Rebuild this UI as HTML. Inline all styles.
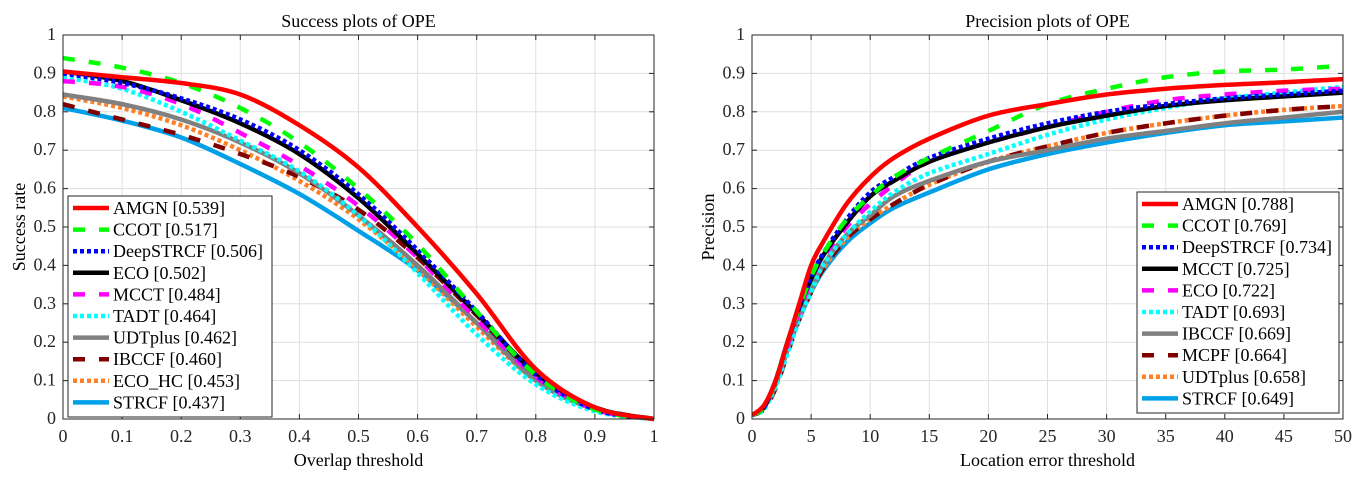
<!DOCTYPE html>
<html><head><meta charset="utf-8"><style>
body{margin:0;background:#fff;}
svg{display:block;font-family:"Liberation Serif",serif;}
</style></head><body>
<svg id="svg" width="1361" height="477" viewBox="0 0 1361 477"></svg>
<script>
const thrS=[0,0.1,0.2,0.3,0.4,0.5,0.6,0.7,0.8,0.9,1];
const sAMGN=[0.905,0.89,0.875,0.845,0.765,0.655,0.5,0.326,0.13,0.03,0];
const sCCOT=[0.94,0.915,0.875,0.81,0.72,0.6,0.455,0.28,0.115,0.025,0];
const sDeep=[0.90,0.875,0.835,0.78,0.70,0.585,0.44,0.28,0.115,0.025,0];
const sECO=[0.905,0.88,0.83,0.77,0.69,0.575,0.43,0.275,0.12,0.03,0];
const sMCCT=[0.88,0.865,0.82,0.745,0.66,0.555,0.42,0.26,0.11,0.025,0];
const sTADT=[0.89,0.86,0.8,0.725,0.645,0.53,0.38,0.22,0.09,0.02,0];
const sUDT=[0.845,0.82,0.78,0.72,0.64,0.53,0.4,0.25,0.1,0.025,0];
const sIBCCF=[0.82,0.78,0.74,0.69,0.63,0.545,0.42,0.27,0.115,0.03,0];
const sECOHC=[0.84,0.81,0.765,0.7,0.62,0.52,0.39,0.24,0.1,0.025,0];
const sSTRCF=[0.81,0.777,0.733,0.664,0.586,0.49,0.387,0.25,0.11,0.025,0];
const thrP=[0,1,2,3,4,5,6,8,10,12,15,20,25,30,35,40,45,50];
const pAMGN=[0.01,0.035,0.1,0.2,0.3,0.4,0.46,0.56,0.63,0.68,0.73,0.79,0.82,0.845,0.86,0.87,0.877,0.885];
const pCCOT=[0.01,0.03,0.1,0.2,0.29,0.37,0.43,0.52,0.58,0.63,0.68,0.75,0.82,0.86,0.89,0.905,0.91,0.92];
const pDeep=[0.01,0.03,0.1,0.2,0.29,0.37,0.43,0.52,0.59,0.63,0.68,0.73,0.77,0.8,0.82,0.835,0.845,0.855];
const pMCCT=[0.01,0.03,0.1,0.2,0.29,0.365,0.425,0.51,0.58,0.62,0.67,0.72,0.76,0.79,0.815,0.83,0.84,0.85];
const pECO=[0.01,0.03,0.1,0.19,0.28,0.36,0.42,0.5,0.56,0.61,0.67,0.72,0.76,0.8,0.83,0.845,0.855,0.86];
const pTADT=[0.01,0.025,0.085,0.17,0.26,0.33,0.4,0.48,0.54,0.59,0.64,0.69,0.74,0.78,0.81,0.835,0.85,0.865];
const pIBCCF=[0.01,0.03,0.09,0.18,0.27,0.34,0.4,0.48,0.53,0.58,0.62,0.67,0.7,0.73,0.75,0.77,0.785,0.8];
const pMCPF=[0.01,0.025,0.08,0.17,0.26,0.33,0.39,0.47,0.52,0.56,0.61,0.67,0.71,0.745,0.77,0.79,0.805,0.815];
const pUDT=[0.01,0.03,0.09,0.18,0.26,0.33,0.39,0.47,0.52,0.56,0.61,0.67,0.71,0.745,0.77,0.79,0.805,0.815];
const pSTRCF=[0.01,0.03,0.09,0.18,0.26,0.33,0.385,0.46,0.51,0.55,0.59,0.65,0.69,0.72,0.745,0.765,0.775,0.785];
const ticksY=[0,0.1,0.2,0.3,0.4,0.5,0.6,0.7,0.8,0.9,1];
const ticksYLab=["0","0.1","0.2","0.3","0.4","0.5","0.6","0.7","0.8","0.9","1"];
const ticksXS=[0,0.1,0.2,0.3,0.4,0.5,0.6,0.7,0.8,0.9,1];
const ticksXSLab=["0","0.1","0.2","0.3","0.4","0.5","0.6","0.7","0.8","0.9","1"];
const ticksXP=[0,5,10,15,20,25,30,35,40,45,50];
const ticksXPLab=["0","5","10","15","20","25","30","35","40","45","50"];
const succLabels=["AMGN [0.539]","CCOT [0.517]","DeepSTRCF [0.506]","ECO [0.502]","MCCT [0.484]","TADT [0.464]","UDTplus [0.462]","IBCCF [0.460]","ECO_HC [0.453]","STRCF [0.437]"];
const precLabels=["AMGN [0.788]","CCOT [0.769]","DeepSTRCF [0.734]","MCCT [0.725]","ECO [0.722]","TADT [0.693]","IBCCF [0.669]","MCPF [0.664]","UDTplus [0.658]","STRCF [0.649]"];

const NS="http://www.w3.org/2000/svg";
const svg=document.getElementById('svg');
function el(t,a,p){const e=document.createElementNS(NS,t);for(const k in a)e.setAttribute(k,a[k]);(p||svg).appendChild(e);return e;}
const ST={red:{c:"#ff0000",d:""},green:{c:"#00ff00",d:"12,14"},blue:{c:"#0000ff",d:"4,3"},black:{c:"#000000",d:""},mag:{c:"#ff00ff",d:"12,14"},cyan:{c:"#00ffff",d:"4,3"},gray:{c:"#808080",d:""},dred:{c:"#800000",d:"12,14"},orange:{c:"#ff7f27",d:"4,3"},sky:{c:"#00a0e8",d:""}};

function plot(cfg){
  const L=cfg.L,R=cfg.L+591,T=35,B=419;
  const sx=v=>L+(v-cfg.xmin)/(cfg.xmax-cfg.xmin)*(R-L);
  const sy=v=>B-v*(B-T);
  const g=el('g',{});
  
  
  cfg.tx.forEach((t,i)=>{const x=sx(t);const ln=el('line',{x1:x,x2:x,y1:T,y2:B,stroke:"#dfdfdf","stroke-width":1},g);
    el('line',{x1:x,x2:x,y1:B,y2:B-5,stroke:"#262626"},g);el('line',{x1:x,x2:x,y1:T,y2:T+5,stroke:"#262626"},g);
    const tx=el('text',{x:x,y:B+23,"text-anchor":"middle","font-size":18,fill:"#262626"},g);tx.textContent=cfg.txl[i];});
  ticksY.forEach((t,i)=>{const y=sy(t);const ln=el('line',{x1:L,x2:R,y1:y,y2:y,stroke:"#dfdfdf","stroke-width":1},g);
    el('line',{x1:L,x2:L+5,y1:y,y2:y,stroke:"#262626"},g);el('line',{x1:R,x2:R-5,y1:y,y2:y,stroke:"#262626"},g);
    const tx=el('text',{x:L-7,y:y+5,"text-anchor":"end","font-size":18,fill:"#262626"},g);tx.textContent=ticksYLab[i];});
  const cp=el('clipPath',{id:cfg.name+"-clip"},g);el('rect',{x:L,y:T-4,width:R-L+4,height:B-T+8},cp);
  const sg=el('g',{"clip-path":"url(#"+cfg.name+"-clip)"},g);
  cfg.series.slice().reverse().forEach(s=>{
    const pts=cfg.xs.map((x,i)=>[sx(x),sy(s.v[i])]);
    let d="M"+pts[0][0]+","+pts[0][1];
    for(let i=0;i<pts.length-1;i++){const p0=pts[Math.max(0,i-1)],p1=pts[i],p2=pts[i+1],p3=pts[Math.min(pts.length-1,i+2)];
      d+=" C"+(p1[0]+(p2[0]-p0[0])/6)+","+(p1[1]+(p2[1]-p0[1])/6)+" "+(p2[0]-(p3[0]-p1[0])/6)+","+(p2[1]-(p3[1]-p1[1])/6)+" "+p2[0]+","+p2[1];}
    const st=ST[s.st];
    const p=el('path',{d:d,fill:"none",stroke:st.c,"stroke-width":4.5,"stroke-dasharray":st.d},sg);
    
    
  });
  el('rect',{x:L,y:T,width:R-L,height:B-T,fill:"none",stroke:"#262626","stroke-width":1},g);
  const ti=el('text',{x:(L+R)/2,y:27,"text-anchor":"middle","font-size":18,fill:"#000"},g);ti.textContent=cfg.title;
  const xl=el('text',{x:(L+R)/2,y:466,"text-anchor":"middle","font-size":18,fill:"#000"},g);xl.textContent=cfg.xlab;
  const yl=el('text',{x:0,y:0,"text-anchor":"middle","font-size":18,fill:"#000",transform:"translate("+(L-38)+","+((T+B)/2)+") rotate(-90)"},g);yl.textContent=cfg.ylab;
  const lg=el('g',{},g);
  el('rect',{x:cfg.lx,y:cfg.ly,width:cfg.lw,height:221,fill:"#fff",stroke:"#262626","stroke-width":1},lg);
  cfg.series.forEach((s,i)=>{const y=cfg.ly+12+i*21.6;const st=ST[s.st];
    const e=el('g',{},lg);
    el('line',{x1:cfg.lx+5,x2:cfg.lx+41,y1:y,y2:y,stroke:st.c,"stroke-width":4.5,"stroke-dasharray":st.d},e);
    const t=el('text',{x:cfg.lx+45,y:y+6,"font-size":18,fill:"#000"},e);t.textContent=cfg.labels[i];});
}
plot({name:"success-plot",L:63,xmin:0,xmax:1,xs:thrS,tx:ticksXS,txl:ticksXSLab,title:"Success plots of OPE",xlab:"Overlap threshold",ylab:"Success rate",lx:68,ly:196,lw:204,labels:succLabels,
 series:[{id:"amgn",st:"red",v:sAMGN},{id:"ccot",st:"green",v:sCCOT},{id:"deepstrcf",st:"blue",v:sDeep},{id:"eco",st:"black",v:sECO},{id:"mcct",st:"mag",v:sMCCT},{id:"tadt",st:"cyan",v:sTADT},{id:"udtplus",st:"gray",v:sUDT},{id:"ibccf",st:"dred",v:sIBCCF},{id:"eco-hc",st:"orange",v:sECOHC},{id:"strcf",st:"sky",v:sSTRCF}]});
plot({name:"precision-plot",L:752,xmin:0,xmax:50,xs:thrP,tx:ticksXP,txl:ticksXPLab,title:"Precision plots of OPE",xlab:"Location error threshold",ylab:"Precision",lx:1137,ly:192,lw:202,labels:precLabels,
 series:[{id:"amgn",st:"red",v:pAMGN},{id:"ccot",st:"green",v:pCCOT},{id:"deepstrcf",st:"blue",v:pDeep},{id:"mcct",st:"black",v:pMCCT},{id:"eco",st:"mag",v:pECO},{id:"tadt",st:"cyan",v:pTADT},{id:"ibccf",st:"gray",v:pIBCCF},{id:"mcpf",st:"dred",v:pMCPF},{id:"udtplus",st:"orange",v:pUDT},{id:"strcf",st:"sky",v:pSTRCF}]});
</script>
</body></html>
